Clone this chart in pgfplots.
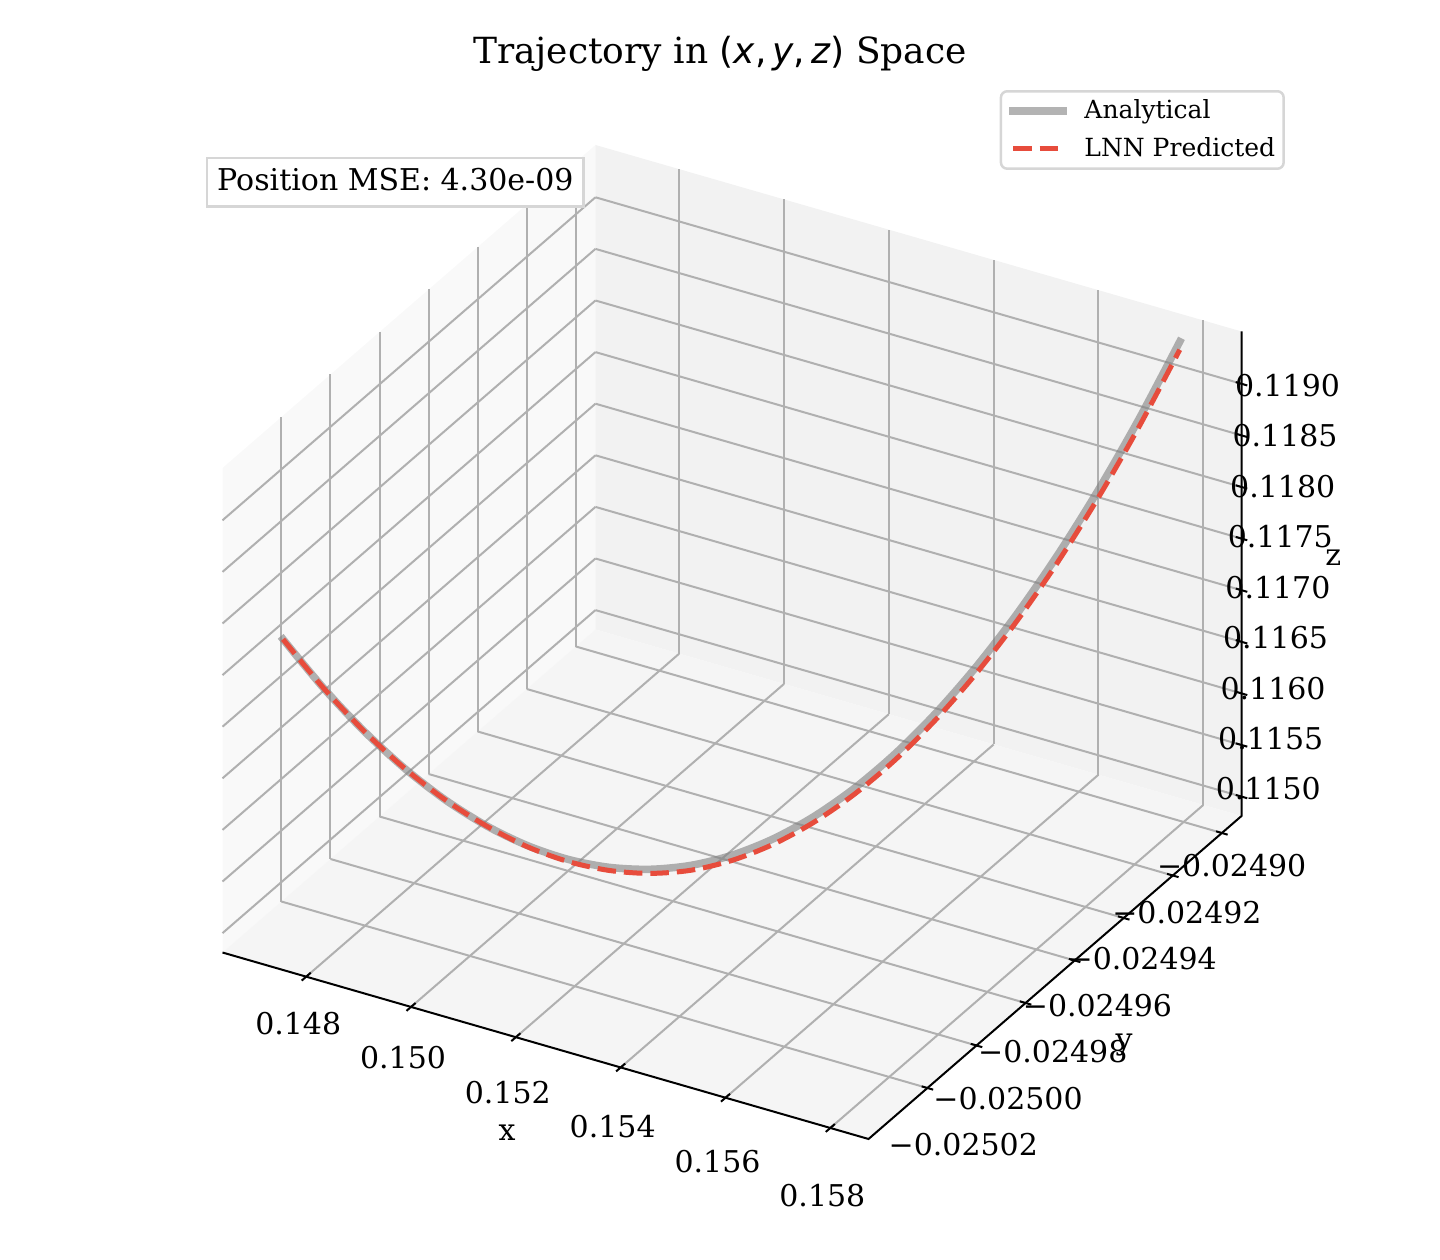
\documentclass[border=0pt]{standalone}
\usepackage{fontspec}
\setmainfont{DejaVu Serif}
\newfontfamily\dvsans{DejaVu Sans}
\usepackage{pgfplots}
\pgfplotsset{compat=1.18}
\definecolor{paneX}{HTML}{F9F9F9}
\definecolor{paneY}{HTML}{F2F2F2}
\definecolor{paneZ}{HTML}{F5F5F5}
\definecolor{gridc}{HTML}{B0B0B0}
\definecolor{lnnred}{HTML}{E74C3C}
\definecolor{legframe}{HTML}{D6D6D6}
\definecolor{boxframe}{HTML}{D6D6D6}
\begin{document}
\begin{tikzpicture}
\begin{axis}[
  set layers,
  at={(89bp,48.4bp)}, anchor=south west,
  scale only axis, width=407.6bp, height=397.6bp,
  view={30}{30}, plot box ratio=4 4 3,
  xmin=0.146403, xmax=0.158729,
  ymin=-0.025044, ymax=-0.024892,
  zmin=0.114812, zmax=0.119507,
  scaled ticks=false,
  xtick={0.148,0.150,0.152,0.154,0.156,0.158},
  xticklabels={0.148,0.150,0.152,0.154,0.156,0.158},
  ytick={-0.02502,-0.02500,-0.02498,-0.02496,-0.02494,-0.02492,-0.02490},
  yticklabels={−0.02502,−0.02500,−0.02498,−0.02496,−0.02494,−0.02492,−0.02490},
  ztick={0.1150,0.1155,0.1160,0.1165,0.1170,0.1175,0.1180,0.1185,0.1190},
  zticklabels={},
  xtick style={draw=none}, ytick style={draw=none}, ztick style={draw=none},
  grid=major, grid style={gridc, line width=0.8bp},
  axis line style={draw=none},
  tick label style={font=\fontsize{12bp}{14bp}\selectfont},
  xticklabel style={anchor=center, xshift=-3.2bp, yshift={-18.64bp-1.7bp*\ticknum}},
  yticklabel style={anchor=center, xshift={14.36bp-1.74bp*\ticknum}, yshift={-22.8bp+1.61bp*\ticknum}},
  xlabel={x}, ylabel={y}, zlabel={z},
  every axis x label/.style={at={(axis description cs:0.2792,0.006)}, anchor=center, font=\fontsize{12bp}{14bp}\selectfont},
  every axis y label/.style={at={(axis description cs:0.8847,0.0946)}, anchor=center, font=\fontsize{12bp}{14bp}\selectfont},
  every axis z label/.style={at={(axis description cs:1.0901,0.5849)}, anchor=center, font=\fontsize{12bp}{14bp}\selectfont},
  title={Trajectory in {\dvsans(\textit{x},\,\textit{y},\,\textit{z})} Space},
  every axis title/.style={at={(axis description cs:0.4882,1.0822)}, anchor=base, font=\fontsize{14.4bp}{17bp}\selectfont},
  clip=false,
  legend style={at={(axis description cs:1.0426,1.0553)}, anchor=north east,
    draw=legframe, line width=1bp, rounded corners=2.5bp, fill=white, fill opacity=0.8, text opacity=1, draw opacity=1,
    font=\fontsize{10bp}{12bp}\selectfont,
    inner xsep=3.4bp, inner ysep=0.4bp,
    nodes={inner xsep=0bp, inner ysep=3.0bp},
    column sep=7.0bp, row sep=0bp},
  legend cell align=left,
  legend image code/.code={\draw[#1] (0bp,0bp) -- (20bp,0bp);},
]
\begin{pgfonlayer}{axis background}
\fill[paneX] (axis cs:0.146403,-0.025044,0.114812) -- (axis cs:0.146403,-0.024892,0.114812) -- (axis cs:0.146403,-0.024892,0.119507) -- (axis cs:0.146403,-0.025044,0.119507) -- cycle;
\fill[paneY] (axis cs:0.146403,-0.024892,0.114812) -- (axis cs:0.158729,-0.024892,0.114812) -- (axis cs:0.158729,-0.024892,0.119507) -- (axis cs:0.146403,-0.024892,0.119507) -- cycle;
\fill[paneZ] (axis cs:0.146403,-0.025044,0.114812) -- (axis cs:0.158729,-0.025044,0.114812) -- (axis cs:0.158729,-0.024892,0.114812) -- (axis cs:0.146403,-0.024892,0.114812) -- cycle;
\end{pgfonlayer}
\draw[black, line width=0.8bp] (axis cs:0.146403,-0.025044,0.114812) -- (axis cs:0.158729,-0.025044,0.114812) -- (axis cs:0.158729,-0.024892,0.114812) -- (axis cs:0.158729,-0.024892,0.119507);
\pgfplotsinvokeforeach{0.148,0.150,0.152,0.154,0.156,0.158}{
  \draw[black, line width=0.8bp] (axis cs:#1,-0.02504585,0.114812) -- (axis cs:#1,-0.02504215,0.114812);
}
\pgfplotsinvokeforeach{-0.02502,-0.02500,-0.02498,-0.02496,-0.02494,-0.02492,-0.02490}{
  \draw[black, line width=0.8bp] (axis cs:0.158619,#1,0.114812) -- (axis cs:0.158839,#1,0.114812);
}
\pgfplotsinvokeforeach{0.1150,0.1155,0.1160,0.1165,0.1170,0.1175,0.1180,0.1185,0.1190}{
  \draw[black, line width=0.8bp] (axis cs:0.158619,-0.024892,#1) -- (axis cs:0.158839,-0.024892,#1);
}
\node[anchor=center, font=\fontsize{12bp}{14bp}\selectfont, xshift=10.72bp, yshift=3.06bp] at (axis cs:0.158729,-0.024892,0.1150) {0.1150};
\node[anchor=center, font=\fontsize{12bp}{14bp}\selectfont, xshift=11.68bp, yshift=2.58bp] at (axis cs:0.158729,-0.024892,0.1155) {0.1155};
\node[anchor=center, font=\fontsize{12bp}{14bp}\selectfont, xshift=12.64bp, yshift=2.11bp] at (axis cs:0.158729,-0.024892,0.1160) {0.1160};
\node[anchor=center, font=\fontsize{12bp}{14bp}\selectfont, xshift=13.60bp, yshift=1.63bp] at (axis cs:0.158729,-0.024892,0.1165) {0.1165};
\node[anchor=center, font=\fontsize{12bp}{14bp}\selectfont, xshift=14.56bp, yshift=1.16bp] at (axis cs:0.158729,-0.024892,0.1170) {0.1170};
\node[anchor=center, font=\fontsize{12bp}{14bp}\selectfont, xshift=15.52bp, yshift=0.68bp] at (axis cs:0.158729,-0.024892,0.1175) {0.1175};
\node[anchor=center, font=\fontsize{12bp}{14bp}\selectfont, xshift=16.48bp, yshift=0.20bp] at (axis cs:0.158729,-0.024892,0.1180) {0.1180};
\node[anchor=center, font=\fontsize{12bp}{14bp}\selectfont, xshift=17.44bp, yshift=-0.27bp] at (axis cs:0.158729,-0.024892,0.1185) {0.1185};
\node[anchor=center, font=\fontsize{12bp}{14bp}\selectfont, xshift=18.40bp, yshift=-0.75bp] at (axis cs:0.158729,-0.024892,0.1190) {0.1190};

\addplot3[draw=gray, opacity=0.6, line width=3bp, line cap=rect, line join=round, smooth, tension=0.5] coordinates {
(0.1471352,-0.02503497,0.1177688)
(0.1476282,-0.02502889,0.1172398)
(0.1481212,-0.02502281,0.1167679)
(0.1486143,-0.02501673,0.1163531)
(0.1491073,-0.02501065,0.1159955)
(0.1496004,-0.02500457,0.1156949)
(0.1500934,-0.02499849,0.1154514)
(0.1505864,-0.02499241,0.1152650)
(0.1510795,-0.02498633,0.1151357)
(0.1515725,-0.02498025,0.1150635)
(0.1520656,-0.02497417,0.1150484)
(0.1525586,-0.02496809,0.1150920)
(0.1530516,-0.02496201,0.1151950)
(0.1535447,-0.02495593,0.1153573)
(0.1540377,-0.02494985,0.1155789)
(0.1545308,-0.02494377,0.1158599)
(0.1550238,-0.02493769,0.1162003)
(0.1555168,-0.02493161,0.1166000)
(0.1560099,-0.02492553,0.1170590)
(0.1565029,-0.02491945,0.1175774)
(0.1569960,-0.02491337,0.1181551)
(0.1574890,-0.02490729,0.1187921)
(0.1579820,-0.02490121,0.1194885)
};
\addlegendentry{Analytical}
\addplot3[draw=lnnred, line width=2bp, dash pattern=on 7.4bp off 3.2bp, line join=round, smooth, tension=0.5] coordinates {
(0.1471352,-0.02503497,0.1177688)
(0.1476282,-0.02502889,0.1172398)
(0.1481212,-0.02502281,0.1167679)
(0.1486143,-0.02501673,0.1163531)
(0.1491073,-0.02501065,0.1159955)
(0.1496004,-0.02500457,0.1156927)
(0.1500934,-0.02499849,0.1154398)
(0.1505864,-0.02499241,0.1152440)
(0.1510795,-0.02498633,0.1151053)
(0.1515725,-0.02498025,0.1150237)
(0.1520656,-0.02497417,0.1150008)
(0.1525586,-0.02496809,0.1150419)
(0.1530516,-0.02496201,0.1151423)
(0.1535447,-0.02495593,0.1153020)
(0.1540377,-0.02494985,0.1155211)
(0.1545308,-0.02494377,0.1157995)
(0.1550238,-0.02493769,0.1161373)
(0.1555168,-0.02493161,0.1165345)
(0.1560099,-0.02492553,0.1169909)
(0.1565029,-0.02491945,0.1175067)
(0.1569960,-0.02491337,0.1180818)
(0.1574890,-0.02490729,0.1187162)
(0.1579820,-0.02490121,0.1194100)
};
\addlegendentry{LNN Predicted}
\node[draw=boxframe, line width=1bp, fill=white, anchor=north west, inner xsep=4bp, inner ysep=4bp, text height=8.75bp, text depth=2.5bp, font=\fontsize{12bp}{14bp}\selectfont] at (axis description cs:-0.0162,0.9879) {Position MSE: 4.30e-09};
\end{axis}
\pgfresetboundingbox
\path[use as bounding box] (0,0) rectangle (576bp,504bp);
\end{tikzpicture}
\end{document}
